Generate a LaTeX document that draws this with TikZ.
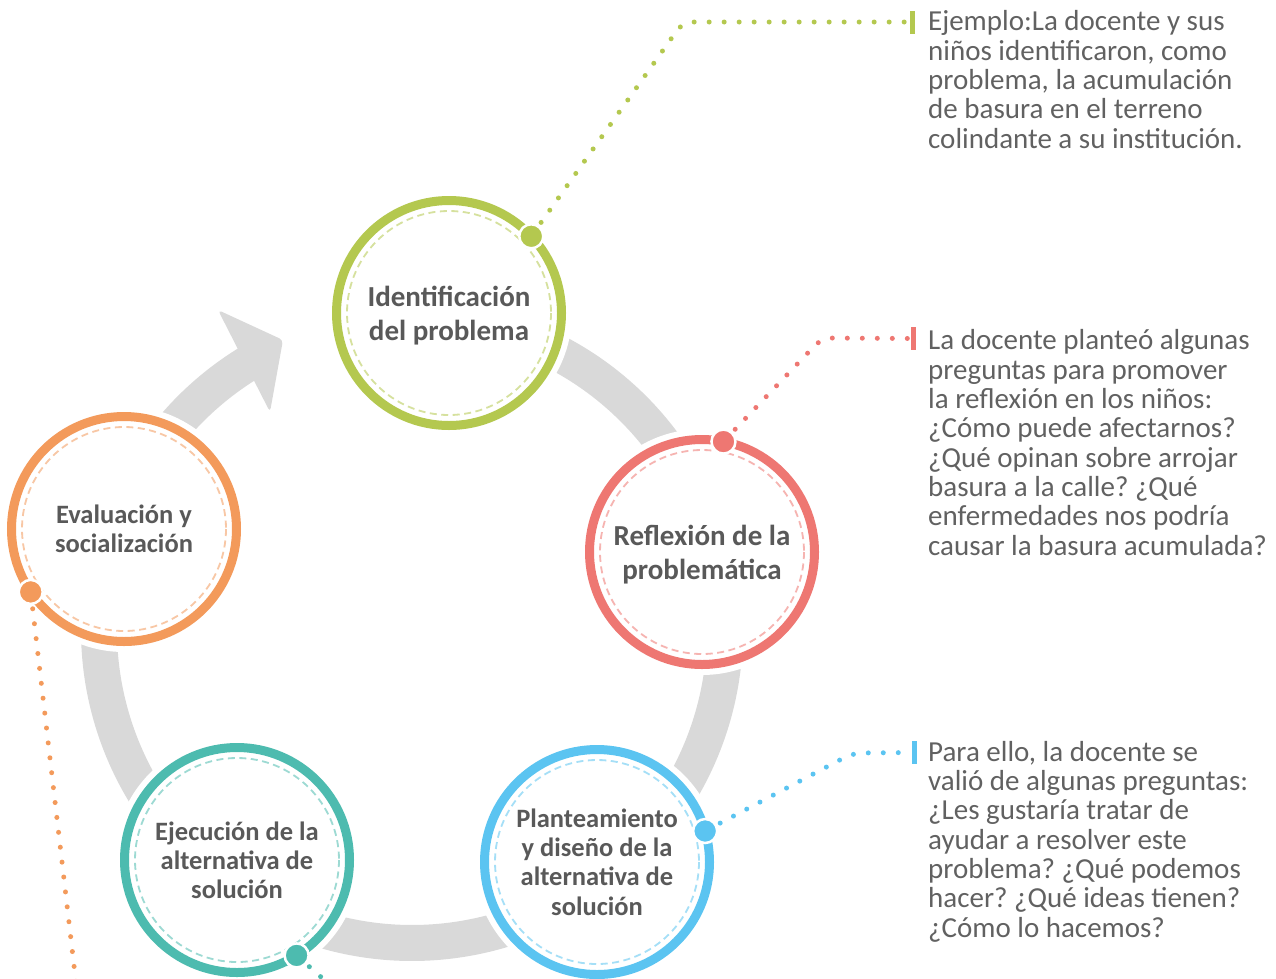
\documentclass[tikz,border=0pt]{standalone}
\usepackage{fontspec}
\setmainfont{Carlito}
\usepackage{tikz}
\frenchspacing
\definecolor{lima}{HTML}{B4C84F}
\definecolor{coral}{HTML}{EE7772}
\definecolor{cielo}{HTML}{5BC4F1}
\definecolor{turq}{HTML}{4DBBAF}
\definecolor{naranja}{HTML}{F39A5B}
\definecolor{banda}{HTML}{D9D9D9}
\definecolor{texto}{HTML}{595959}

\begin{document}
\begin{tikzpicture}[x=1pt, y=-1pt,
        franja/.style={draw=banda, line width=36pt},
        etapa/.style={circle, draw=#1, line width=9pt, fill=white, minimum size=225pt,
            inner sep=0pt, outer sep=0pt, align=center, text=texto, text depth=0pt,
            font=\bfseries\fontsize{29}{34}\selectfont,
            preaction={draw=white, line width=21pt}},
        chica/.style={font=\bfseries\fontsize{26.5}{29.3}\selectfont},
        punto/.style={circle, fill=#1, draw=white, line width=2.5pt, minimum size=24pt, inner sep=0pt},
        barra/.style={rectangle, fill=#1, minimum width=5pt, minimum height=23pt, inner sep=0pt},
        guia/.style={draw=#1, line width=5pt, line cap=round, dash pattern=on 0pt off 15pt,
            dash phase=13pt, rounded corners=10pt},
        nota/.style={anchor=base west, align=left, inner sep=0pt, text=texto!95!white,
            font=\fontsize{29}{29.3}\selectfont}]
        \useasboundingbox (0,0) rectangle (1276,978);
        \coordinate (hub) at (412,630);
        \foreach \a/\b in {-83.3/-15.1, -15.1/51.4, 51.4/127.3, 127.3/199.3}
            \draw[franja] (hub) ++(\a:313) arc[start angle=\a, end angle=\b, radius=313];
        \draw[franja] (hub) ++(199.3:313) arc[start angle=199.3, end angle=239, radius=313];
        \fill[banda, rounded corners=4pt] (218,310) -- (283,340) -- (270,412) -- cycle;

        \node[etapa=lima] (ident) at (449,313) {Identificación\\del problema};
        \node[etapa=coral] (refl) at (702,552) {Reflexión de la\\problemática};
        \node[etapa=cielo, chica] (plant) at (597,862) {Planteamiento\\y diseño de la\\alternativa de\\solución};
        \node[etapa=turq, chica] (ejec) at (237,860) {Ejecución de la\\alternativa de\\solución};
        \node[etapa=naranja, chica] (eval) at (124,529) {Evaluación y\\socialización};
        \foreach \n/\c in {ident/lima, refl/coral, plant/cielo, ejec/turq, eval/naranja}
            \draw[\c!55, line width=1.8pt, dash pattern=on 7pt off 4.5pt] (\n.center) circle[radius=102];

        \node[punto=lima] (ident-p) at (ident.43) {};
        \node[punto=coral] (refl-p) at (refl.79) {};
        \node[punto=cielo] (plant-p) at (plant.16) {};
        \node[punto=turq] (ejec-p) at (ejec.-58) {};
        \node[punto=naranja] (eval-p) at (eval.214) {};

        \node[barra=lima] (ident-b) at (912,22) {};
        \node[barra=coral] (refl-b) at (913.5,338.5) {};
        \node[barra=cielo] (plant-b) at (914.5,752.5) {};
        \coordinate (ident-q) at (683,22);
        \coordinate (refl-q) at (822,338);
        \coordinate (plant-q) at (853,753);
        \coordinate (ejec-q) at (347,1000);
        \coordinate (eval-q) at (78,1000);

        \draw[guia=lima] (ident-p.center) -- (ident-q) -- (ident-b);
        \draw[guia=coral] (refl-p.center) -- (refl-q) -- (refl-b);
        \draw[guia=cielo] (plant-p.center) -- (plant-q) -- (plant-b);
        \draw[guia=turq] (ejec-p.center) -- (ejec-q);
        \draw[guia=naranja] (eval-p.center) -- (eval-q);

        \node[nota] (ident-t) at (928,148) {Ejemplo:La docente y sus\\niños identificaron, como\\problema, la acumulación\\de basura en el terreno\\colindante a su institución.};
        \node[nota] (refl-t) at (928,555) {La docente planteó algunas\\preguntas para promover\\la reflexión en los niños:\\¿Cómo puede afectarnos?\\¿Qué opinan sobre arrojar\\basura a la calle? ¿Qué\\enfermedades nos podría\\causar la basura acumulada?};
        \node[nota] (plant-t) at (928,937) {Para ello, la docente se\\valió de algunas preguntas:\\¿Les gustaría tratar de\\ayudar a resolver este\\problema? ¿Qué podemos\\hacer? ¿Qué ideas tienen?\\¿Cómo lo hacemos?};
\end{tikzpicture}
\end{document}
